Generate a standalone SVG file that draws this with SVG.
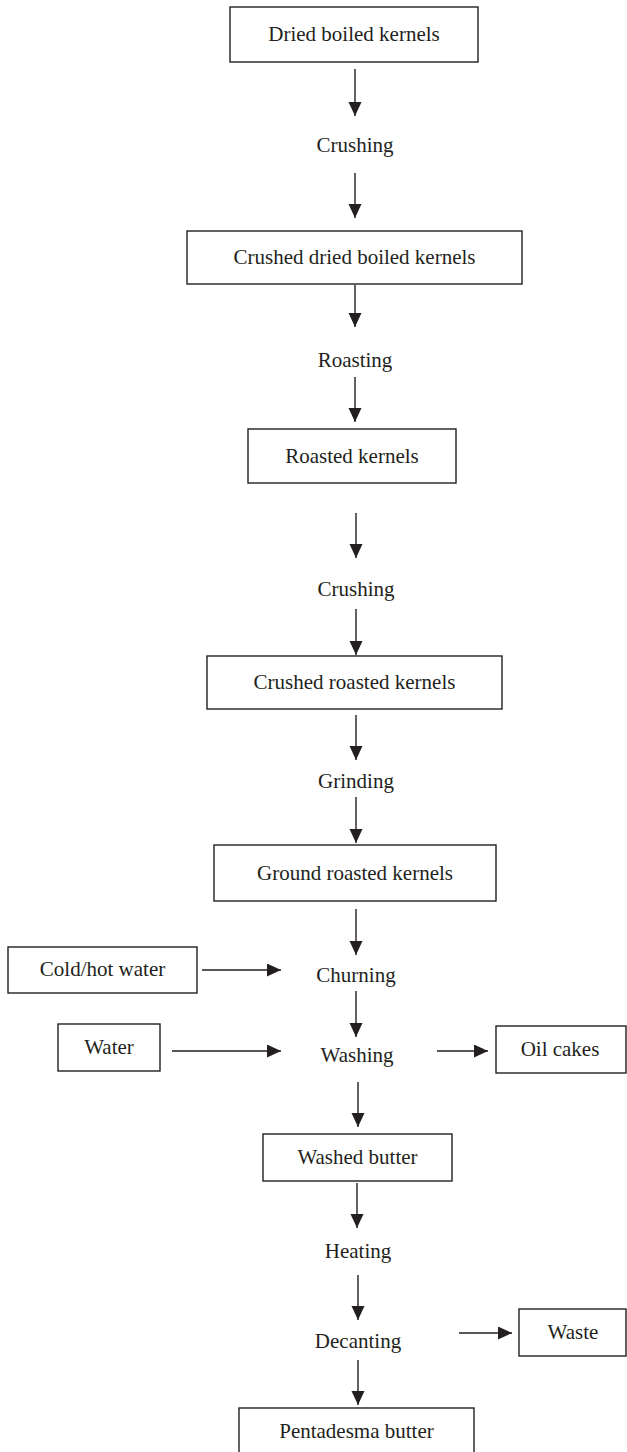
<svg xmlns="http://www.w3.org/2000/svg" width="627" height="1452" viewBox="0 0 627 1452">
<style>
  .box { fill: #ffffff; stroke: #231f20; stroke-width: 1.4; }
  .t { font-family: "Liberation Serif", "Times New Roman", serif; font-size: 21px; fill: #231f20; text-anchor: middle; }
  .c { stroke: #231f20; stroke-width: 1.4; fill: none; marker-end: url(#ah); }
</style>
<defs>
  <marker id="ah" markerUnits="userSpaceOnUse" markerWidth="15" markerHeight="14" refX="14" refY="6.5" orient="auto">
    <path d="M0,0 L14,6.5 L0,13 z" fill="#231f20"/>
  </marker>
</defs>
<rect width="627" height="1452" fill="#ffffff"/>

<g id="connectors">
  <line class="c" x1="355" y1="69" x2="355" y2="116"/>
  <line class="c" x1="355" y1="173" x2="355" y2="218"/>
  <line class="c" x1="355" y1="285" x2="355" y2="327"/>
  <line class="c" x1="355" y1="377" x2="355" y2="422"/>
  <line class="c" x1="356" y1="513" x2="356" y2="558"/>
  <line class="c" x1="356" y1="609" x2="356" y2="655"/>
  <line class="c" x1="356" y1="715" x2="356" y2="760"/>
  <line class="c" x1="356" y1="797" x2="356" y2="843"/>
  <line class="c" x1="356" y1="909" x2="356" y2="955"/>
  <line class="c" x1="356" y1="991" x2="356" y2="1037"/>
  <line class="c" x1="358" y1="1082" x2="358" y2="1127"/>
  <line class="c" x1="357" y1="1183" x2="357" y2="1228"/>
  <line class="c" x1="358" y1="1275" x2="358" y2="1320"/>
  <line class="c" x1="358" y1="1360" x2="358" y2="1405"/>
  <line class="c" x1="202" y1="970" x2="281" y2="970"/>
  <line class="c" x1="172" y1="1051" x2="281" y2="1051"/>
  <line class="c" x1="437" y1="1051" x2="488" y2="1051"/>
  <line class="c" x1="459" y1="1333" x2="512" y2="1333"/>
</g>

<g id="n-dried"><rect class="box" x="230" y="7" width="248" height="55"/><text class="t" x="354" y="41">Dried boiled kernels</text></g>
<g id="s-crushing1"><text class="t" x="355" y="152">Crushing</text></g>
<g id="n-crushed-dried"><rect class="box" x="187" y="231" width="335" height="53"/><text class="t" x="354.5" y="264">Crushed dried boiled kernels</text></g>
<g id="s-roasting"><text class="t" x="355" y="367">Roasting</text></g>
<g id="n-roasted"><rect class="box" x="248" y="429" width="208" height="54"/><text class="t" x="352" y="463">Roasted kernels</text></g>
<g id="s-crushing2"><text class="t" x="356" y="596">Crushing</text></g>
<g id="n-crushed-roasted"><rect class="box" x="207" y="656" width="295" height="53"/><text class="t" x="354.5" y="689">Crushed roasted kernels</text></g>
<g id="s-grinding"><text class="t" x="356" y="788">Grinding</text></g>
<g id="n-ground"><rect class="box" x="214" y="845" width="282" height="56"/><text class="t" x="355" y="880">Ground roasted kernels</text></g>
<g id="n-coldhot"><rect class="box" x="8" y="947" width="189" height="46"/><text class="t" x="102.5" y="976">Cold/hot water</text></g>
<g id="s-churning"><text class="t" x="356" y="982">Churning</text></g>
<g id="n-water"><rect class="box" x="58" y="1024" width="102" height="47"/><text class="t" x="109" y="1054">Water</text></g>
<g id="s-washing"><text class="t" x="357" y="1062">Washing</text></g>
<g id="n-oilcakes"><rect class="box" x="496" y="1026" width="130" height="47"/><text class="t" x="560" y="1056">Oil cakes</text></g>
<g id="n-washed"><rect class="box" x="263" y="1134" width="189" height="47"/><text class="t" x="357.5" y="1164">Washed butter</text></g>
<g id="s-heating"><text class="t" x="358" y="1258">Heating</text></g>
<g id="s-decanting"><text class="t" x="358" y="1348">Decanting</text></g>
<g id="n-waste"><rect class="box" x="519" y="1309" width="107" height="47"/><text class="t" x="573" y="1339">Waste</text></g>
<g id="n-pentadesma"><rect class="box" x="239" y="1408" width="235" height="50"/><text class="t" x="356.5" y="1438">Pentadesma butter</text></g>
</svg>
